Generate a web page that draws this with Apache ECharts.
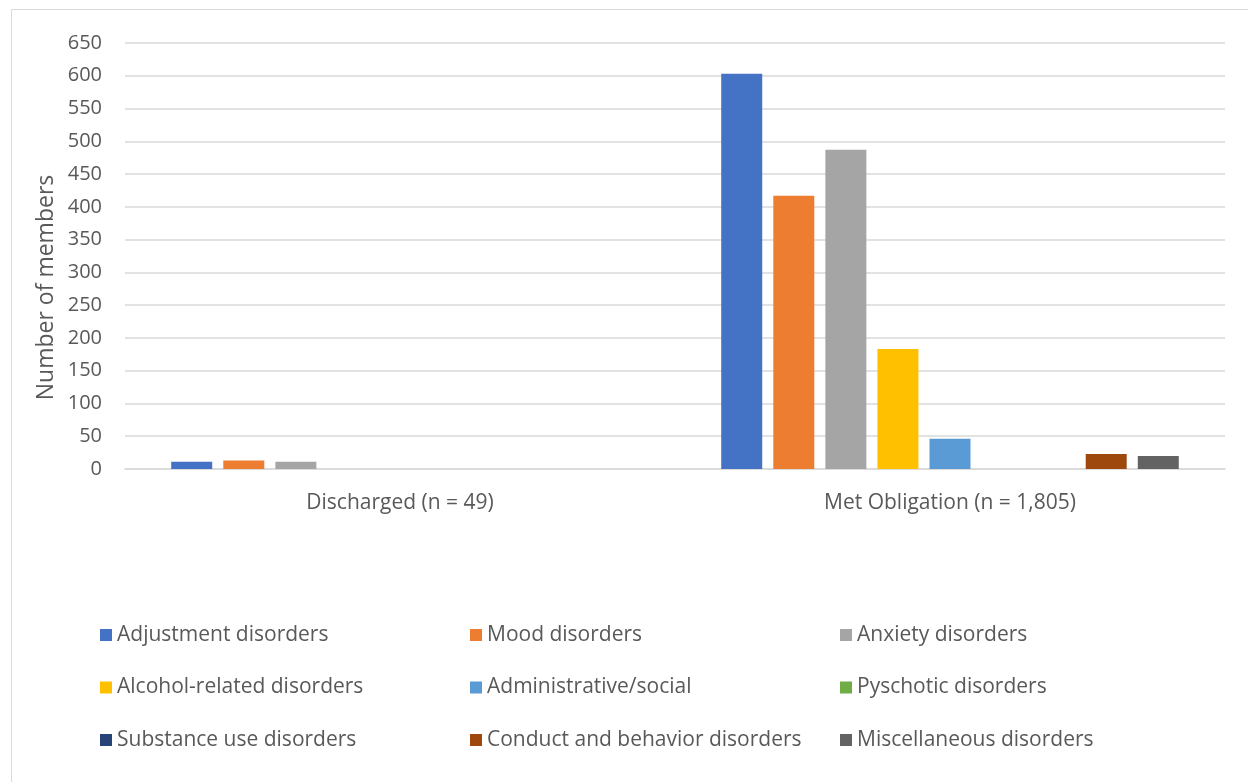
<!DOCTYPE html>
<html>
<head>
<meta charset="utf-8">
<script src="https://cdn.jsdelivr.net/npm/echarts@6/dist/echarts.min.js"></script>
<style>
html,body{margin:0;padding:0;background:#fff;}
#chart{width:1248px;height:782px;}
</style>
</head>
<body>
<div id="chart"></div>
<script>
const categories = ['Discharged (n = 49)', 'Met Obligation (n = 1,805)'];
const seriesNames = ['Adjustment disorders','Mood disorders','Anxiety disorders','Alcohol-related disorders','Administrative/social','Pyschotic disorders','Substance use disorders','Conduct and behavior disorders','Miscellaneous disorders'];
const adjustment = [11, 603];
const mood = [13, 417];
const anxiety = [11, 487];
const alcohol = [0, 183];
const administrative = [0, 46];
const psychotic = [0, 0];
const substance = [0, 0];
const conduct = [0, 23];
const misc = [0, 20];
const yTicks = [0, 650, 50];
const yTitle = 'Number of members';
const colors = ['#4472C4','#ED7D31','#A5A5A5','#FFC000','#5B9BD5','#70AD47','#264478','#9E480E','#636363'];
const allValues = [adjustment, mood, anxiety, alcohol, administrative, psychotic, substance, conduct, misc];

const FONT = 'Open Sans';
const chart = echarts.init(document.getElementById('chart'));
const legendBase = {
  orient: 'vertical', itemWidth: 12, itemHeight: 12, itemGap: 30.5, icon: 'rect', padding: 0,
  textStyle: {color: '#595959', fontSize: 21, lineHeight: 22, fontFamily: FONT}, selectedMode: false
};
chart.setOption({
  animation: false,
  color: colors,
  graphic: [
    {type: 'rect', shape: {x: 11.5, y: 9.5, width: 1260, height: 800}, style: {fill: 'none', stroke: '#d9d9d9', lineWidth: 1}, silent: true},
    {type: 'text', x: 46, y: 287.5, rotation: Math.PI / 2, style: {text: yTitle, fill: '#595959', font: '23px "Open Sans"', textAlign: 'center', textVerticalAlign: 'middle'}, silent: true}
  ],
  grid: {left: 125, right: 23, top: 43, bottom: 313, containLabel: false},
  legend: [
    Object.assign({}, legendBase, {left: 100, top: 624, data: [seriesNames[0], seriesNames[3], seriesNames[6]]}),
    Object.assign({}, legendBase, {left: 470, top: 624, data: [seriesNames[1], seriesNames[4], seriesNames[7]]}),
    Object.assign({}, legendBase, {left: 840, top: 624, data: [seriesNames[2], seriesNames[5], seriesNames[8]]})
  ],
  xAxis: {
    type: 'category', data: categories,
    axisLine: {show: true, lineStyle: {color: '#d9d9d9', width: 1.5}},
    axisTick: {show: false},
    axisLabel: {color: '#595959', fontSize: 21, fontFamily: FONT, margin: 24}
  },
  yAxis: {
    type: 'value', min: yTicks[0], max: yTicks[1], interval: yTicks[2],
    axisLine: {show: false}, axisTick: {show: false},
    axisLabel: {color: '#595959', fontSize: 20, fontFamily: FONT, margin: 23},
    splitLine: {lineStyle: {color: '#d9d9d9', width: 1.5}}
  },
  series: seriesNames.map((n, i) => ({
    name: n, type: 'bar', data: allValues[i], barWidth: 41, barGap: '27%',
    itemStyle: {color: colors[i]}
  }))
});
</script>
</body>
</html>
